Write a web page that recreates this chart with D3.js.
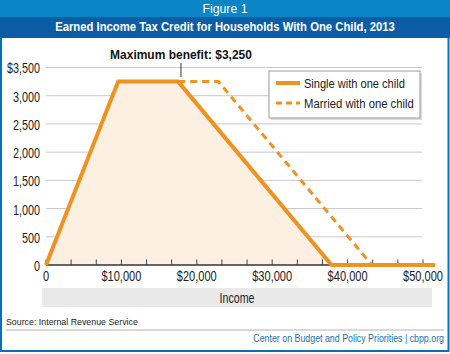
<!DOCTYPE html>
<html>
<head>
<meta charset="utf-8">
<script src="https://cdn.jsdelivr.net/npm/d3@7"></script>
<style>
  body { margin: 0; background: #fff; }
  svg { display: block; }
  text { font-family: "Liberation Sans", Arial, sans-serif; }
</style>
</head>
<body>
<div id="chart"></div>
<script>
// data (income in dollars, credit in dollars)
const singleIncome = [0, 9560, 17530, 37870, 51600];
const singleCredit = [0, 3250, 3250, 0, 0];
const marriedIncome = [17530, 22870, 43210];
const marriedCredit = [3250, 3250, 0];
const yTicks = [0, 500, 1000, 1500, 2000, 2500, 3000, 3500];
const xTicks = [0, 10000, 20000, 30000, 40000, 50000];
const seriesNames = ["Single with one child", "Married with one child"];

const W = 450, H = 354;
const orange = "#f0921f";

const svg = d3.select("#chart").append("svg")
    .attr("width", W)
    .attr("height", H);

// squeeze text horizontally (scale around x=0) to mimic a condensed face
function squeeze(sel, k) {
    sel.each(function() {
        const t = d3.select(this);
        t.attr("x", +t.attr("x") / k).attr("transform", `scale(${k},1)`);
    });
}
function fitTo(sel, w) {
    sel.each(function() {
        squeeze(d3.select(this), w / this.getComputedTextLength());
    });
}

// frame + header bands
svg.append("rect").attr("x", 1).attr("y", 1).attr("width", W - 2.5).attr("height", 350)
    .attr("fill", "#fff").attr("stroke", "#0b6fb3").attr("stroke-width", 2);
svg.append("rect").attr("x", 0).attr("y", 0).attr("width", W).attr("height", 17).attr("fill", "#0a86c6");
svg.append("rect").attr("x", 0).attr("y", 17).attr("width", W).attr("height", 21).attr("fill", "#0b5ea5");

svg.append("text")
    .attr("x", W / 2).attr("y", 13.5)
    .attr("text-anchor", "middle").attr("fill", "#fff").attr("font-size", 13)
    .text("Figure 1")
    .call(fitTo, 45);
svg.append("text")
    .attr("x", W / 2).attr("y", 31)
    .attr("text-anchor", "middle").attr("fill", "#fff").attr("font-size", 13.5).attr("font-weight", "bold")
    .text("Earned Income Tax Credit for Households With One Child, 2013")
    .call(fitTo, 340);

// scales
const x = d3.scaleLinear().domain([0, 50000]).range([46, 423]);
const y = d3.scaleLinear().domain([0, 3500]).range([265, 67.5]);

// gridlines
svg.append("g").selectAll("line")
    .data(yTicks.slice(1))
    .join("line")
    .attr("x1", x(0)).attr("x2", 422)
    .attr("y1", d => y(d)).attr("y2", d => y(d))
    .attr("stroke", "#c8c8c8").attr("stroke-width", 1);

// y labels
svg.append("g").selectAll("text")
    .data(yTicks)
    .join("text")
    .attr("x", 40).attr("y", d => y(d) + 6)
    .attr("text-anchor", "end").attr("font-size", 14).attr("fill", "#222")
    .text(d => (d === 3500 ? "$" : "") + d3.format(",")(d))
    .call(squeeze, 0.77);

// area under single line
const pts = singleIncome.map((v, i) => ({ inc: v, cr: singleCredit[i] }));
const mpts = marriedIncome.map((v, i) => ({ inc: v, cr: marriedCredit[i] }));

svg.append("path")
    .datum(pts)
    .attr("fill", "#fdf0e2")
    .attr("d", d3.area().x(d => x(d.inc)).y0(y(0)).y1(d => y(d.cr)));

// x axis
const xAxis = svg.append("g").attr("transform", `translate(0,${y(0)})`);
xAxis.append("line").attr("x1", x(0)).attr("x2", x(51600))
    .attr("stroke", "#333").attr("stroke-width", 1.5);
xAxis.selectAll(".tick")
    .data(d3.range(0, 51000, 10000 / 3))
    .join("line")
    .attr("x1", d => x(d)).attr("x2", d => x(d))
    .attr("y1", 0).attr("y2", -5.5)
    .attr("stroke", "#444").attr("stroke-width", 1);
xAxis.selectAll(".lbl")
    .data(xTicks)
    .join("text")
    .attr("x", d => x(d)).attr("y", 16)
    .attr("text-anchor", "middle").attr("font-size", 14).attr("fill", "#222")
    .text(d => (d === 0 ? "" : "$") + d3.format(",")(d))
    .call(squeeze, 0.79);

// lines
const line = d3.line().x(d => x(d.inc)).y(d => y(d.cr));
svg.append("path").datum(mpts)
    .attr("d", line).attr("fill", "none")
    .attr("stroke", orange).attr("stroke-width", 3).attr("stroke-dasharray", "7,5");
svg.append("path").datum(pts)
    .attr("d", line).attr("fill", "none")
    .attr("stroke", orange).attr("stroke-width", 4).attr("stroke-linejoin", "round");

// maximum benefit annotation
svg.append("line").attr("x1", x(17900)).attr("x2", x(17900))
    .attr("y1", 63).attr("y2", 77).attr("stroke", "#333").attr("stroke-width", 1);
svg.append("text")
    .attr("x", 181).attr("y", 59)
    .attr("text-anchor", "middle").attr("font-size", 13.5).attr("font-weight", "bold").attr("fill", "#111")
    .text("Maximum benefit: $3,250")
    .call(fitTo, 142);

// legend
const lg = svg.append("g").attr("transform", "translate(269,71)");
lg.append("rect").attr("x", 2).attr("y", 2).attr("width", 151).attr("height", 47).attr("fill", "#ddd");
lg.append("rect").attr("x", 0).attr("y", 0).attr("width", 151).attr("height", 47)
    .attr("fill", "#fff").attr("stroke", "#999").attr("stroke-width", 1);
const legendW = [101, 110];
seriesNames.forEach((name, i) => {
    const yy = 12 + i * 20;
    lg.append("line").attr("x1", 7).attr("x2", 31).attr("y1", yy).attr("y2", yy)
        .attr("stroke", orange).attr("stroke-width", i === 0 ? 4 : 3)
        .attr("stroke-dasharray", i === 0 ? null : "6,4");
    lg.append("text")
        .attr("x", 35).attr("y", yy + 5)
        .attr("font-size", 13.5).attr("fill", "#222")
        .text(name)
        .call(fitTo, legendW[i]);
});

// income band
svg.append("rect").attr("x", 42).attr("y", 288).attr("width", 390).attr("height", 19).attr("fill", "#e9e9e9");
svg.append("text")
    .attr("x", 237).attr("y", 303)
    .attr("text-anchor", "middle").attr("font-size", 14).attr("fill", "#222")
    .text("Income")
    .call(fitTo, 35);

// source + footer
svg.append("text")
    .attr("x", 6).attr("y", 325)
    .attr("font-size", 8.5).attr("fill", "#222")
    .text("Source: Internal Revenue Service")
    .call(fitTo, 132);
svg.append("line").attr("x1", 6).attr("x2", 444).attr("y1", 330).attr("y2", 330)
    .attr("stroke", "#ccc").attr("stroke-width", 1.5);
svg.append("text")
    .attr("x", 444).attr("y", 342.5)
    .attr("text-anchor", "end").attr("font-size", 10).attr("fill", "#1c6fb5")
    .text("Center on Budget and Policy Priorities | cbpp.org")
    .call(fitTo, 191);
</script>
</body>
</html>
